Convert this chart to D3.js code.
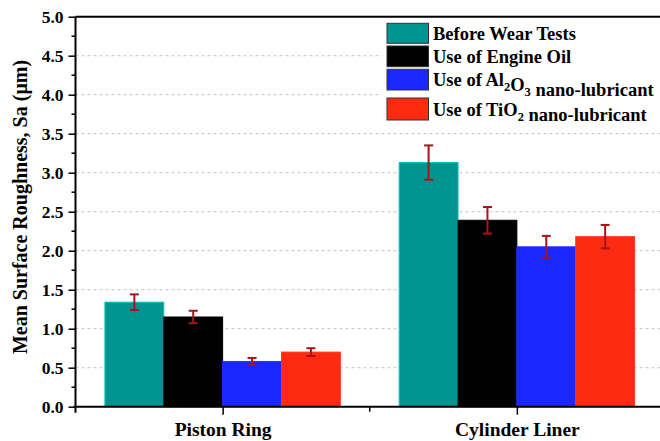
<!DOCTYPE html>
<html><head><meta charset="utf-8">
<script src="https://cdn.jsdelivr.net/npm/d3@7"></script>
<style>body{margin:0;background:#fff}svg{display:block}
svg text{font-family:"Liberation Serif","Times New Roman",Times,serif;font-weight:bold;fill:#000}</style>
</head><body>
<svg id="c" width="660" height="441"></svg>
<script>
const categories = ["Piston Ring", "Cylinder Liner"];
const seriesNames = ["Before Wear Tests", "Use of Engine Oil", "Use of Al_2O_3 nano-lubricant", "Use of TiO_2 nano-lubricant"];
const seriesColors = ["#009490", "#000000", "#1a28ff", "#ff2a12"];
const beforeWear = [1.34, 3.13];
const engineOil = [1.15, 2.39];
const al2o3 = [0.58, 2.05];
const tio2 = [0.70, 2.18];
const beforeWearErr = [0.10, 0.22];
const engineOilErr = [0.08, 0.17];
const al2o3Err = [0.045, 0.14];
const tio2Err = [0.05, 0.15];
const yTicks = [0, 0.5, 1, 1.5, 2, 2.5, 3, 3.5, 4, 4.5, 5];

const values = [beforeWear, engineOil, al2o3, tio2];
const errs = [beforeWearErr, engineOilErr, al2o3Err, tio2Err];

const svg = d3.select("#c");
const font = '"Liberation Serif", "Times New Roman", Times, serif';
const x = d3.scaleLinear().domain([0.5, 2.5]).range([75.5, 664]);
const y = d3.scaleLinear().domain([0, 5]).range([406.7, 16.7]);
const barW = 0.2;

// gridlines
svg.append("g").selectAll("line").data(yTicks.filter(d => d > 0 && d < 5)).join("line")
  .attr("x1", x(0.5)).attr("x2", 660).attr("y1", d => y(d)).attr("y2", d => y(d))
  .attr("stroke", "#c4c4c4").attr("stroke-width", 1).attr("stroke-dasharray", "3,3");

// bars
const bars = [];
values.forEach((arr, j) => arr.forEach((v, i) => bars.push({i, j, v, e: errs[j][i]})));
const bx = d => (d.i + 1) - 0.4 + d.j * barW;
svg.append("g").selectAll("rect").data(bars).join("rect")
  .attr("x", d => x(bx(d)))
  .attr("width", d => x(bx(d) + barW) - x(bx(d)))
  .attr("y", d => y(d.v))
  .attr("height", d => y(0) - y(d.v))
  .attr("fill", d => seriesColors[d.j])
  .attr("stroke", d => d3.color(seriesColors[d.j]).brighter(0.8))
  .attr("stroke-width", 1);

// error bars
const eb = svg.append("g").attr("stroke", "#a8141a").attr("stroke-width", 2);
bars.forEach(d => {
  const cx = x(bx(d) + barW / 2);
  eb.append("line").attr("x1", cx).attr("x2", cx).attr("y1", y(d.v + d.e)).attr("y2", y(d.v - d.e));
  eb.append("line").attr("x1", cx - 4.5).attr("x2", cx + 4.5).attr("y1", y(d.v + d.e)).attr("y2", y(d.v + d.e));
  eb.append("line").attr("x1", cx - 4.5).attr("x2", cx + 4.5).attr("y1", y(d.v - d.e)).attr("y2", y(d.v - d.e));
});

// legend background
svg.append("rect").attr("x", 382).attr("y", 19).attr("width", 280).attr("height", 106).attr("fill", "#fff");

// top frame line
svg.append("line").attr("x1", x(0.5)).attr("x2", 660).attr("y1", y(5)).attr("y2", y(5))
  .attr("stroke", "#000").attr("stroke-width", 2);

// y axis
const yAxis = d3.axisLeft(y).tickValues(yTicks).tickFormat(d3.format(".1f")).tickSize(7).tickPadding(5);
const gy = svg.append("g").attr("transform", `translate(${x(0.5)},0)`).call(yAxis).attr("font-family", null);
gy.select(".domain").attr("stroke-width", 2).attr("d", `M0,${y(5)}V${y(0) + 6}`);
gy.selectAll(".tick line").attr("stroke-width", 1.5);
gy.selectAll("text").style("font-family", font).style("font-weight", "bold").style("font-size", "17.5px").attr("fill", "#000");
const minorY = d3.range(0.25, 5, 0.5);
svg.append("g").selectAll("line").data(minorY).join("line")
  .attr("x1", x(0.5) - 4).attr("x2", x(0.5)).attr("y1", d => y(d)).attr("y2", d => y(d))
  .attr("stroke", "#000").attr("stroke-width", 1.5);

// x axis
const xAxis = d3.axisBottom(x).tickValues([1, 2]).tickFormat((d) => categories[d - 1]).tickSize(8);
const gx = svg.append("g").attr("transform", `translate(0,${y(0)})`).call(xAxis).attr("font-family", null);
gx.select(".domain").attr("stroke-width", 2).attr("d", `M${x(0.5) - 2},0H660`);
gx.selectAll(".tick line").attr("stroke-width", 1.5);
gx.selectAll("text").attr("y", 29.3).attr("dy", null)
  .style("font-family", font).style("font-weight", "bold").style("font-size", "19.5px").attr("fill", "#000");
svg.append("line").attr("x1", x(1.5)).attr("x2", x(1.5)).attr("y1", y(0)).attr("y2", y(0) + 5)
  .attr("stroke", "#000").attr("stroke-width", 1.5);

// y label
svg.append("text").attr("transform", `translate(27,207) rotate(-90)`)
  .attr("text-anchor", "middle").style("font-family", font).style("font-weight", "bold").style("font-size", "20px")
  .text("Mean Surface Roughness, Sa (\u03bcm)");

// legend
const boxY = [23.3, 46, 69.3, 98];
const boxH = [20, 20.7, 20.7, 22];
const textY = [40, 63.3, 86, 116];
const lg = svg.append("g");
seriesNames.forEach((name, j) => {
  lg.append("rect").attr("x", 387).attr("y", boxY[j]).attr("width", 41.5).attr("height", boxH[j])
    .attr("fill", seriesColors[j]).attr("stroke", "#333").attr("stroke-width", 1);
  const t = lg.append("text").attr("x", 433).attr("y", textY[j])
    .style("font-family", font).style("font-weight", "bold").style("font-size", "18.5px");
  name.split(/(_\d)/).forEach(part => {
    if (part.startsWith("_")) {
      t.append("tspan").attr("dy", 5).style("font-size", "12.5px").text(part.slice(1));
      t.append("tspan").attr("dy", -5).text("");
    } else if (part) {
      t.append("tspan").text(part);
    }
  });
});
</script>
</body></html>
